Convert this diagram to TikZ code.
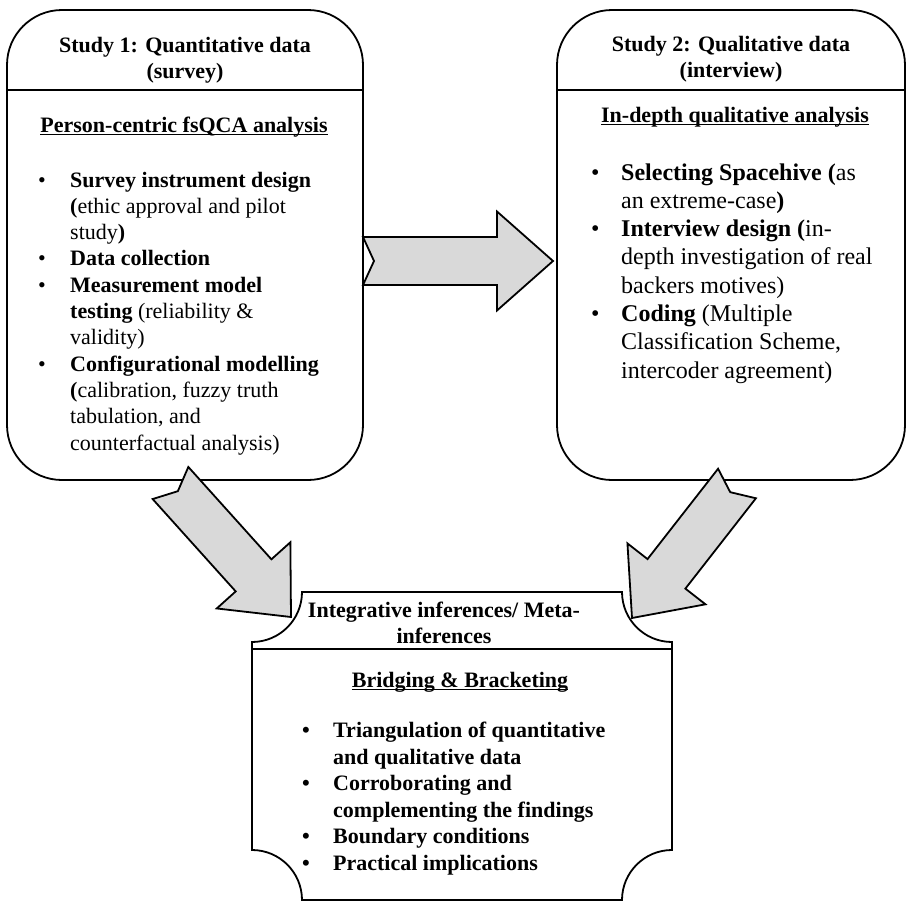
\documentclass[tikz,border=0pt]{standalone}
\usepackage{fontspec}
\setmainfont{Liberation Serif}
\usetikzlibrary{calc}
\definecolor{arrowgray}{HTML}{D9D9D9}

% heading with a rule through the descenders
\newcommand\ulinetext[1]{\setbox0=\hbox{#1}\rlap{\rule[-3pt]{\wd0}{1.5pt}}\box0}

% block arrow with a notched tail: #1 tail centre, #2 tip, #3 name prefix
\newcommand\fatarrow[3]{%
  \coordinate (#3-h) at ($(#2)!56pt!(#1)$);
  \filldraw[blockarrow]
    ($(#1)!24pt!90:(#2)$) -- ($(#3-h)!24pt!90:(#2)$) -- ($(#3-h)!49.5pt!90:(#2)$)
    -- (#2)
    -- ($(#3-h)!49.5pt!-90:(#2)$) -- ($(#3-h)!24pt!-90:(#2)$) -- ($(#1)!24pt!-90:(#2)$)
    -- ($(#1)!11pt!(#2)$) -- cycle;}

\newcommand\headfont{\fontsize{22}{26.3}\selectfont\bfseries}
\newcommand\listfont{\fontsize{22}{26.3}\selectfont}
\newcommand\listfontR{\fontsize{24}{28.33}\selectfont}
\newcommand\listfontB{\fontsize{22}{26.5}\selectfont}

\begin{document}
\begin{tikzpicture}[x=1pt,y=-1pt,
  studybox/.style={draw, line width=1.8pt, fill=white, rounded corners=55pt},
  divider/.style={line width=1.4pt},
  blockarrow/.style={draw, line width=1.8pt, fill=arrowgray, line join=miter},
  txt/.style={inner sep=0pt, anchor=base}]
\useasboundingbox (0,0) rectangle (908,902);

% ---- Study 1 ----
\draw[studybox] (7,10) rectangle (363,480);
\draw[divider] (7,90) -- (363,90);
\node[txt] (s1title) at (185,52) {\headfont\begin{tabular}[t]{@{}c@{}}Study 1: Quantitative data\\(survey)\end{tabular}};
\node[txt] (s1sub) at (184,132) {\headfont\ulinetext{Person-centric fsQCA analysis}};
\node[txt, anchor=base west] (s1list) at (38,187) {\listfont\begin{tabular}[t]{@{}l@{}l@{}}
\makebox[32pt][l]{\textbullet} & \textbf{Survey instrument design}\\
 & \textbf{(}ethic approval and pilot\\
 & study\textbf{)}\\
\textbullet & \textbf{Data collection}\\
\textbullet & \textbf{Measurement model}\\
 & \textbf{testing} (reliability \&\\
 & validity)\\
\textbullet & \textbf{Configurational modelling}\\
 & \textbf{(}calibration, fuzzy truth\\
 & tabulation, and\\
 & counterfactual analysis)
\end{tabular}};

% ---- Study 2 ----
\draw[studybox] (557,10) rectangle (905,480);
\draw[divider] (557,90) -- (905,90);
\node[txt] (s2title) at (731,51) {\headfont\begin{tabular}[t]{@{}c@{}}Study 2: Qualitative data\\(interview)\end{tabular}};
\node[txt] (s2sub) at (735,122) {\headfont\ulinetext{In-depth qualitative analysis}};
\node[txt, anchor=base west] (s2list) at (591,180) {\listfontR\begin{tabular}[t]{@{}l@{}l@{}}
\makebox[30pt][l]{\textbullet} & \textbf{Selecting Spacehive (}as\\
 & an extreme-case\textbf{)}\\
\textbullet & \textbf{Interview design (}in-\\
 & depth investigation of real\\
 & backers motives)\\
\textbullet & \textbf{Coding} (Multiple\\
 & Classification Scheme,\\
 & intercoder agreement)
\end{tabular}};

% ---- Integration box with concave corners ----
\draw[line width=1.8pt, fill=white]
  (302,592) -- (622,592) arc[start angle=180, end angle=270, radius=50pt]
  -- (672,850) arc[start angle=90, end angle=180, radius=50pt]
  -- (302,900) arc[start angle=0, end angle=90, radius=50pt]
  -- (252,642) arc[start angle=270, end angle=360, radius=50pt] -- cycle;
\draw[divider] (252,649) -- (672,649);
\node[txt] (mtitle) at (444,617) {\headfont\begin{tabular}[t]{@{}c@{}}Integrative inferences/ Meta-\\inferences\end{tabular}};
\node[txt] (msub) at (460,687) {\headfont\ulinetext{Bridging \& Bracketing}};
\node[txt, anchor=base west] (mlist) at (302,737.5) {\listfontB\bfseries\begin{tabular}[t]{@{}l@{}l@{}}
\makebox[31pt][l]{\textbullet} & Triangulation of quantitative\\
 & and qualitative data\\
\textbullet & Corroborating and\\
 & complementing the findings\\
\textbullet & Boundary conditions\\
\textbullet & Practical implications
\end{tabular}};

% ---- block arrows ----
\coordinate (a1-tail) at (363,261);
\coordinate (a1-tip) at (553,261);
\coordinate (a2-tail) at (170.5,483);
\coordinate (a2-tip) at (291,617);
\coordinate (a3-tail) at (737,483.5);
\coordinate (a3-tip) at (632,618);
\fatarrow{a1-tail}{a1-tip}{a1}
\fatarrow{a2-tail}{a2-tip}{a2}
\fatarrow{a3-tail}{a3-tip}{a3}
\end{tikzpicture}
\end{document}
